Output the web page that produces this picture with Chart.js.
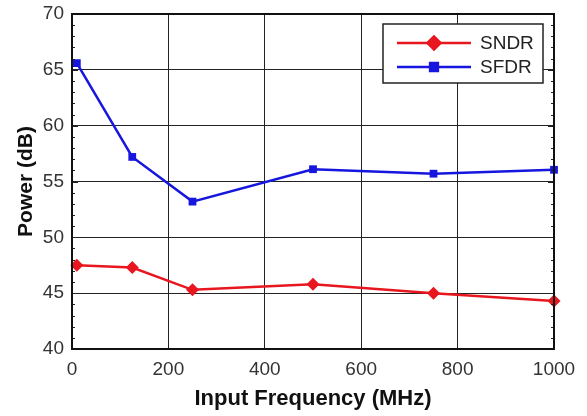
<!DOCTYPE html>
<html>
<head>
<meta charset="utf-8">
<script src="https://cdn.jsdelivr.net/npm/chart.js@4.4.1/dist/chart.umd.min.js"></script>
<style>
html,body{margin:0;padding:0;background:#fff;}
#wrap{width:587px;height:416px;}
</style>
</head>
<body>
<div id="wrap"><canvas id="c" width="587" height="416"></canvas></div>
<script>
const freqs = [10, 125, 250, 500, 750, 1000];
const sndr = [47.5, 47.3, 45.3, 45.8, 45.0, 44.3];
const sfdr = [65.6, 57.2, 53.2, 56.1, 55.7, 56.05];
const seriesNames = ['SNDR', 'SFDR'];
const xTitle = 'Input Frequency (MHz)';
const yTitle = 'Power (dB)';

const RED = 'rgb(232,22,30)';
const BLUE = 'rgb(22,22,222)';
const FONT = "'Liberation Sans', Arial, sans-serif";

const framePlugin = {
  id: 'frame',
  afterDatasetsDraw(chart) {
    const {ctx, chartArea: a, scales} = chart;
    const y = scales.y;
    ctx.save();
    ctx.strokeStyle = '#222';
    ctx.lineWidth = 1.2;
    for (let v = y.min; v <= y.max; v += 1) {
      const py = Math.round(y.getPixelForValue(v)) + 0.5;
      const major = (v % 5 === 0);
      const len = major ? 6 : 3;
      ctx.beginPath();
      ctx.moveTo(a.left, py); ctx.lineTo(a.left + len, py);
      ctx.moveTo(a.right, py); ctx.lineTo(a.right - len, py);
      ctx.stroke();
    }
    ctx.strokeStyle = '#111';
    ctx.lineWidth = 2;
    ctx.strokeRect(a.left, a.top, a.right - a.left, a.bottom - a.top);
    ctx.restore();
  },
  afterDraw(chart) {
    const {ctx, chartArea: a} = chart;
    const bx = a.right - 171, by = a.top + 10, bw = 160, bh = 59;
    ctx.save();
    ctx.fillStyle = '#fff';
    ctx.fillRect(bx, by, bw, bh);
    ctx.strokeStyle = '#222';
    ctx.lineWidth = 1.5;
    ctx.strokeRect(bx, by, bw, bh);
    chart.data.datasets.forEach((ds, i) => {
      const ly = by + 19 + i * 24;
      ctx.strokeStyle = ds.borderColor;
      ctx.lineWidth = 2.5;
      ctx.beginPath();
      ctx.moveTo(bx + 14, ly); ctx.lineTo(bx + 88, ly);
      ctx.stroke();
      Chart.helpers.drawPoint(ctx, {pointStyle: ds.pointStyle, radius: ds.pointRadius, borderWidth: 1}, bx + 51, ly);
      ctx.fillStyle = ds.borderColor;
      ctx.fill();
      ctx.fillStyle = '#222';
      ctx.font = "19px " + FONT;
      ctx.textBaseline = 'middle';
      ctx.textAlign = 'left';
      ctx.fillText(ds.label, bx + 97, ly + 1);
    });
    ctx.restore();
  }
};

new Chart(document.getElementById('c'), {
  type: 'line',
  data: {
    datasets: [
      {
        label: seriesNames[0],
        data: freqs.map((f, i) => ({x: f, y: sndr[i]})),
        borderColor: RED, backgroundColor: RED,
        borderWidth: 2.5, pointStyle: 'rectRot', pointRadius: 6.5,
        pointBorderWidth: 0, tension: 0
      },
      {
        label: seriesNames[1],
        data: freqs.map((f, i) => ({x: f, y: sfdr[i]})),
        borderColor: BLUE, backgroundColor: BLUE,
        borderWidth: 2.5, pointStyle: 'rect', pointRadius: 5.5,
        pointBorderWidth: 0, tension: 0
      }
    ]
  },
  options: {
    responsive: false,
    animation: false,
    clip: false,
    layout: {padding: {top: 14, right: 33, left: 10, bottom: 0}},
    plugins: {legend: {display: false}, tooltip: {enabled: false}},
    scales: {
      x: {
        type: 'linear', min: 0, max: 1000,
        ticks: {stepSize: 200, color: '#333', font: {family: FONT, size: 19}, padding: 9,
                callback: v => String(v)},
        grid: {color: '#222', lineWidth: 1, drawTicks: false},
        border: {display: false},
        title: {display: true, text: xTitle, color: '#111', font: {family: FONT, size: 22, weight: 'bold'}, padding: {top: 8}},
        afterFit(s) { s.height = 67; s.paddingLeft = 0; s.paddingRight = 0; }
      },
      y: {
        min: 40, max: 70,
        ticks: {stepSize: 5, color: '#333', font: {family: FONT, size: 19}, padding: 8},
        grid: {color: '#222', lineWidth: 1, drawTicks: false},
        border: {display: false},
        title: {display: true, text: yTitle, color: '#111', font: {family: FONT, size: 21, weight: 'bold'}, padding: {bottom: 2}},
        afterFit(s) { s.width = 62; s.paddingTop = 0; s.paddingBottom = 0; }
      }
    }
  },
  plugins: [framePlugin]
});
</script>
</body>
</html>
